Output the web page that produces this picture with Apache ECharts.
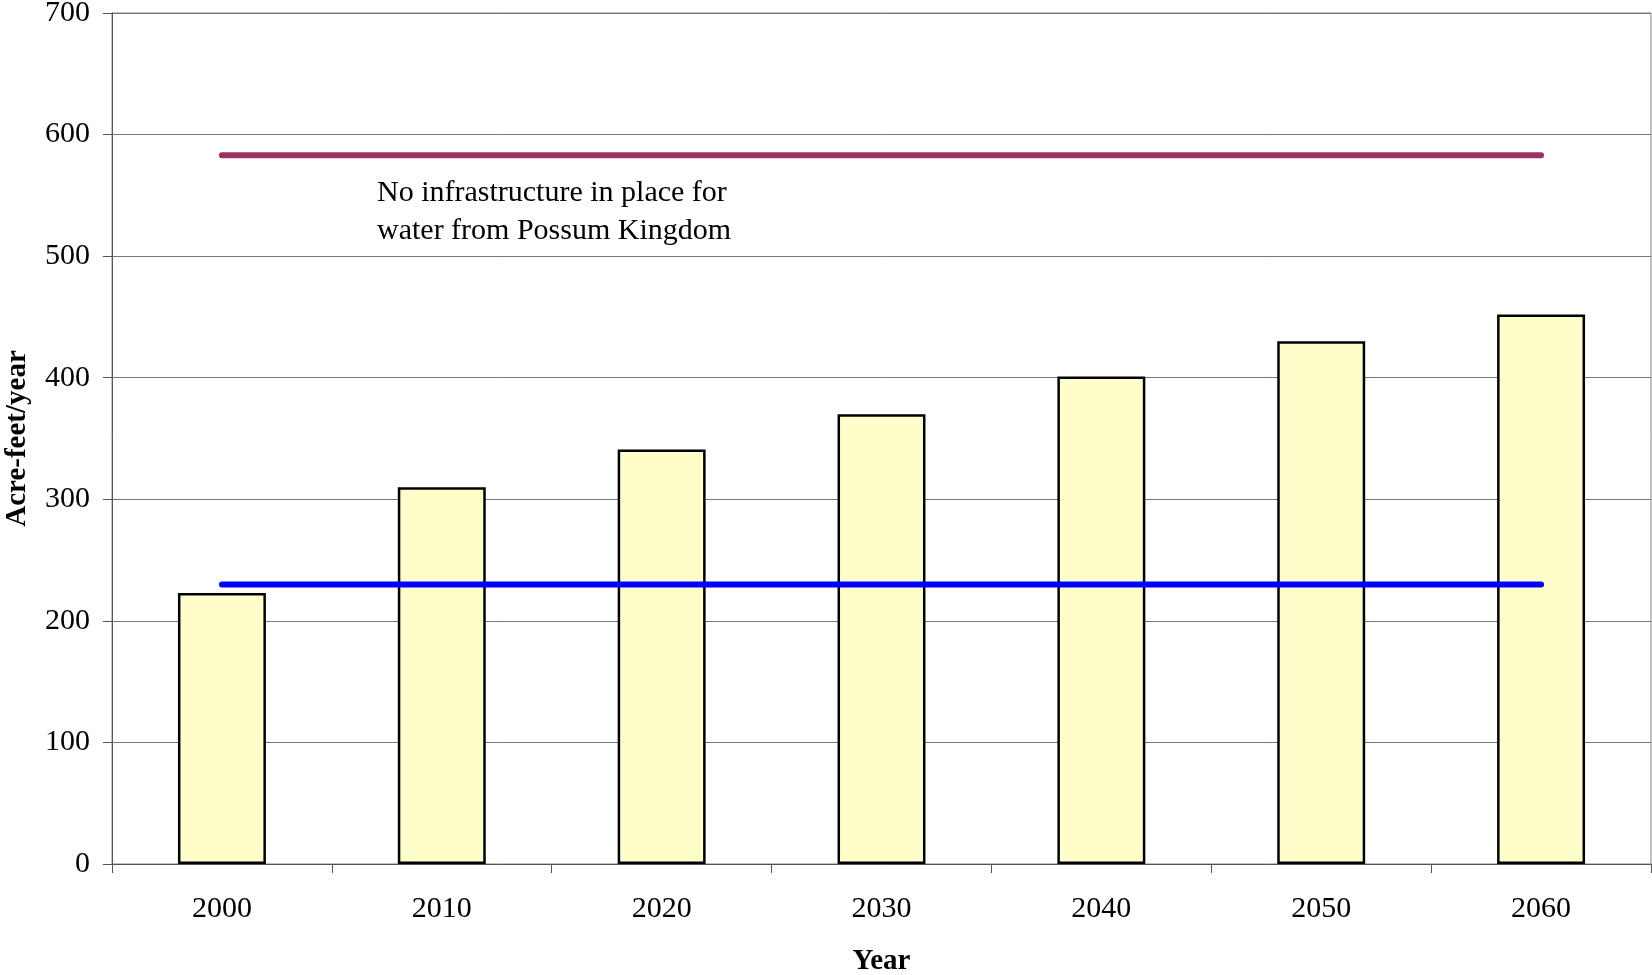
<!DOCTYPE html>
<html>
<head>
<meta charset="utf-8">
<script src="https://cdn.jsdelivr.net/npm/echarts@6/dist/echarts.min.js"></script>
<style>
html,body{margin:0;padding:0;background:#fff;}
#chart{width:1652px;height:975px;}
</style>
</head>
<body>
<div id="chart"></div>
<script>
const years = ['2000','2010','2020','2030','2040','2050','2060'];
const demand = [223, 310, 341, 370, 401, 430, 452];
const possumKingdom = [583, 583, 583, 583, 583, 583, 583];
const currentSupply = [230, 230, 230, 230, 230, 230, 230];
const yTicks = [0, 100, 200, 300, 400, 500, 600, 700];
const annotation = 'No infrastructure in place for\nwater from Possum Kingdom';

const FONT = '"Liberation Serif", "Times New Roman", serif';
const chart = echarts.init(document.getElementById('chart'));
chart.setOption({
  animation: false,
  backgroundColor: '#ffffff',
  grid: {left: 112, right: 1, top: 13, bottom: 111, show: true, borderColor: '#808080', borderWidth: 1,
         containLabel: false, outerBoundsMode: 'none'},
  xAxis: {
    type: 'category',
    data: years,
    name: 'Year',
    nameLocation: 'middle',
    nameGap: 83,
    nameTextStyle: {fontFamily: FONT, fontSize: 29, fontWeight: 'bold', color: '#000'},
    axisLine: {lineStyle: {color: '#555', width: 1}},
    axisTick: {show: true, length: 9, lineStyle: {color: '#555'}},
    axisLabel: {fontFamily: FONT, fontSize: 30, color: '#000', margin: 30},
    splitLine: {show: false}
  },
  yAxis: {
    type: 'value',
    min: yTicks[0],
    max: yTicks[yTicks.length - 1],
    interval: 100,
    name: 'Acre-feet/year',
    nameLocation: 'middle',
    nameGap: 80,
    nameRotate: 90,
    nameTextStyle: {fontFamily: FONT, fontSize: 29, fontWeight: 'bold', color: '#000'},
    axisLine: {show: true, lineStyle: {color: '#555', width: 1}},
    axisTick: {show: true, length: 9, lineStyle: {color: '#555'}},
    axisLabel: {fontFamily: FONT, fontSize: 30, color: '#000', margin: 22},
    splitLine: {show: true, lineStyle: {color: '#777', width: 1}}
  },
  series: [
    {
      type: 'bar',
      data: demand,
      barWidth: '40%',
      itemStyle: {color: '#FFFFCC', borderColor: '#000', borderWidth: 2.5},
      z: 2
    },
    {
      type: 'line',
      data: possumKingdom,
      symbol: 'none',
      lineStyle: {color: '#993366', width: 6, cap: 'round'},
      z: 3
    },
    {
      type: 'line',
      data: currentSupply,
      symbol: 'none',
      lineStyle: {color: '#0000FF', width: 6, cap: 'round'},
      z: 3
    }
  ],
  graphic: [
    {
      type: 'text',
      left: 377,
      top: 174,
      style: {text: annotation, font: '30px ' + FONT, fill: '#000', lineHeight: 38}
    }
  ]
});
</script>
</body>
</html>
